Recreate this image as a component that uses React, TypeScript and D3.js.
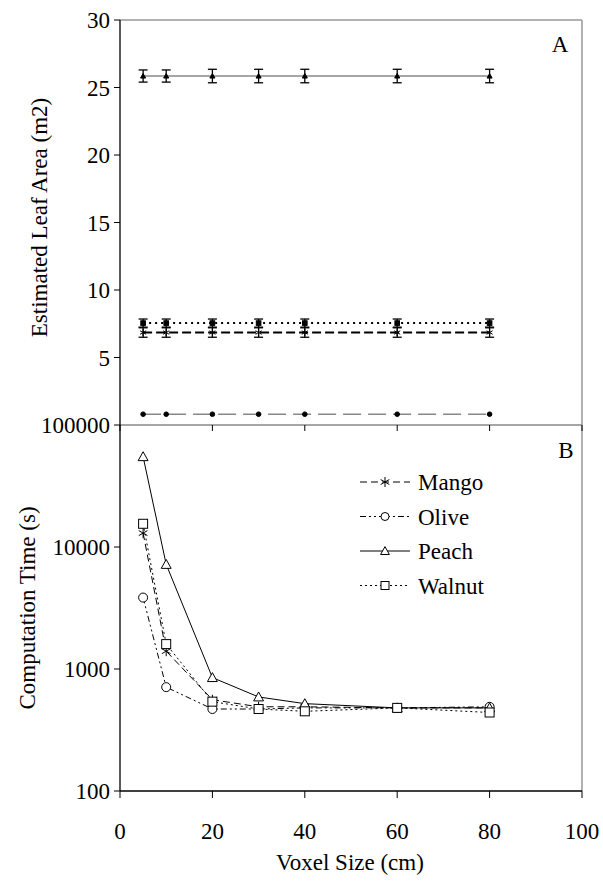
import React from "react";
import * as d3 from "d3";

const voxel = [5, 10, 20, 30, 40, 60, 80];
const seriesNames = ["Mango", "Olive", "Peach", "Walnut"];

const areaMango = [6.85, 6.85, 6.85, 6.85, 6.85, 6.85, 6.85];
const areaOlive = [0.8, 0.8, 0.8, 0.8, 0.8, 0.8, 0.8];
const areaPeach = [25.85, 25.85, 25.85, 25.85, 25.85, 25.85, 25.85];
const areaWalnut = [7.55, 7.55, 7.55, 7.55, 7.55, 7.55, 7.55];
const errMango = [0.35, 0.35, 0.35, 0.35, 0.35, 0.35, 0.35];
const errOlive = [0.05, 0.05, 0.05, 0.05, 0.05, 0.05, 0.05];
const errPeach = [0.45, 0.45, 0.5, 0.5, 0.5, 0.5, 0.5];
const errWalnut = [0.3, 0.3, 0.3, 0.3, 0.3, 0.3, 0.3];

const timeMango = [13000, 1400, 560, 490, 490, 480, 480];
const timeOlive = [3850, 710, 470, 470, 480, 480, 490];
const timePeach = [55000, 7200, 850, 590, 520, 480, 480];
const timeWalnut = [15500, 1600, 540, 470, 450, 480, 440];

const xTicks = [0, 20, 40, 60, 80, 100];
const yTicksA = [5, 10, 15, 20, 25, 30];
const yTicksB = [100, 1000, 10000, 100000];

const FONT = "'Liberation Serif', 'Times New Roman', Times, serif";
const FS = 23;

type Kind = "star" | "circle" | "triangle" | "square";

function Marker({ kind, cx, cy, s, filled }: { kind: Kind; cx: number; cy: number; s: number; filled?: boolean }) {
  const fill = filled ? "#000" : "#fff";
  if (kind === "circle") return <circle cx={cx} cy={cy} r={s} fill={fill} stroke="#000" strokeWidth={1} />;
  if (kind === "square") return <rect x={cx - s} y={cy - s} width={2 * s} height={2 * s} fill={fill} stroke="#000" strokeWidth={1} />;
  if (kind === "triangle") {
    const h = s * 1.1;
    return <path d={`M${cx},${cy - h}L${cx + s * 1.1},${cy + h * 0.8}L${cx - s * 1.1},${cy + h * 0.8}Z`} fill={fill} stroke="#000" strokeWidth={1} />;
  }
  const a = s * 0.87;
  return (
    <g stroke="#000" strokeWidth={1}>
      <line x1={cx} y1={cy - s} x2={cx} y2={cy + s} />
      <line x1={cx - a} y1={cy - s / 2} x2={cx + a} y2={cy + s / 2} />
      <line x1={cx - a} y1={cy + s / 2} x2={cx + a} y2={cy - s / 2} />
    </g>
  );
}

export default function App() {
  const W = 603, H = 883;
  const x = d3.scaleLinear().domain([0, 100]).range([120, 582]);
  const yA = d3.scaleLinear().domain([0, 30]).range([425, 20]);
  const yB = d3.scaleLog().domain([100, 100000]).range([791, 425]);

  const kinds: Kind[] = ["star", "circle", "triangle", "square"];
  const areas = [areaMango, areaOlive, areaPeach, areaWalnut];
  const errs = [errMango, errOlive, errPeach, errWalnut];
  const times = [timeMango, timeOlive, timePeach, timeWalnut];

  const topStyles = [
    { stroke: "#000", width: 2, dash: "9,4" },
    { stroke: "#888", width: 1.5, dash: "18,7" },
    { stroke: "#888", width: 1.5, dash: "" },
    { stroke: "#000", width: 2, dash: "2,4" },
  ];
  const botStyles = [
    { stroke: "#000", width: 1, dash: "7,4" },
    { stroke: "#000", width: 1, dash: "6,3,2,3,2,3" },
    { stroke: "#000", width: 1, dash: "" },
    { stroke: "#000", width: 1, dash: "2,3" },
  ];

  const lineA = (vals: number[]) =>
    d3.line<number>().x((_, i) => x(voxel[i])).y((v) => yA(v))(vals) || "";
  const lineB = (vals: number[]) =>
    d3.line<number>().x((_, i) => x(voxel[i])).y((v) => yB(v))(vals) || "";

  const x0 = x(0), x1 = x(100);

  return (
    <svg width={W} height={H} style={{ display: "block", position: "absolute", left: 0, top: 0, fontFamily: FONT }}>
      <rect width={W} height={H} fill="#fff" />
      {/* frames */}
      <line x1={x0} y1={yA(30)} x2={x1} y2={yA(30)} stroke="#999" strokeWidth={1.5} />
      <line x1={x1} y1={yA(30)} x2={x1} y2={yB(100)} stroke="#999" strokeWidth={1.5} />
      <line x1={x0} y1={425} x2={x1} y2={425} stroke="#888" strokeWidth={1.5} />

      {/* top panel x ticks (downward) */}
      {xTicks.map((t) => (
        <line key={"ta" + t} x1={x(t)} y1={425} x2={x(t)} y2={431} stroke="#000" />
      ))}
      {/* top y ticks */}
      {yTicksA.map((t) => (
        <g key={"ya" + t}>
          <line x1={x0 - 6} y1={yA(t)} x2={x0} y2={yA(t)} stroke="#000" />
          <text x={x0 - 10} y={yA(t)} dy="0.35em" textAnchor="end" fontSize={FS}>{t}</text>
        </g>
      ))}

      {/* top series */}
      {areas.map((vals, si) => (
        <g key={"sa" + si}>
          <path d={lineA(vals)} fill="none" stroke={topStyles[si].stroke} strokeWidth={topStyles[si].width} strokeDasharray={topStyles[si].dash} />
          {vals.map((v, i) => {
            const cx = x(voxel[i]);
            const e = errs[si][i];
            return (
              <g key={i}>
                {e > 0.1 && (
                  <g stroke="#000" strokeWidth={1.3}>
                    <line x1={cx} y1={yA(v + e)} x2={cx} y2={yA(v - e)} />
                    <line x1={cx - 4.5} y1={yA(v + e)} x2={cx + 4.5} y2={yA(v + e)} />
                    <line x1={cx - 4.5} y1={yA(v - e)} x2={cx + 4.5} y2={yA(v - e)} />
                  </g>
                )}
                <Marker kind={kinds[si]} cx={cx} cy={yA(v)} s={kinds[si] === "star" ? 3.5 : 2.3} filled={si !== 0} />
              </g>
            );
          })}
        </g>
      ))}
      <text x={560} y={44} dy="0.35em" textAnchor="middle" fontSize={FS}>A</text>

      {/* bottom panel axes */}
      <line x1={x0} y1={yB(100)} x2={x1} y2={yB(100)} stroke="#000" strokeWidth={1.3} />
      <line x1={x0} y1={yA(30)} x2={x0} y2={yB(100)} stroke="#000" strokeWidth={1.3} />
      {xTicks.map((t) => (
        <g key={"tb" + t}>
          <line x1={x(t)} y1={yB(100)} x2={x(t)} y2={yB(100) + 7} stroke="#000" />
          <text x={x(t)} y={yB(100) + 40} dy="0.35em" textAnchor="middle" fontSize={FS}>{t}</text>
        </g>
      ))}
      {yTicksB.map((t) => (
        <g key={"yb" + t}>
          <line x1={x0 - 6} y1={yB(t)} x2={x0} y2={yB(t)} stroke="#000" />
          <text x={x0 - 10} y={yB(t)} dy="0.35em" textAnchor="end" fontSize={FS}>{t}</text>
        </g>
      ))}

      {/* bottom series */}
      {times.map((vals, si) => (
        <g key={"sb" + si}>
          <path d={lineB(vals)} fill="none" stroke={botStyles[si].stroke} strokeWidth={botStyles[si].width} strokeDasharray={botStyles[si].dash} />
          {vals.map((v, i) => (
            <Marker key={i} kind={kinds[si]} cx={x(voxel[i])} cy={yB(v)} s={kinds[si] === "star" ? 5 : 4.5} />
          ))}
        </g>
      ))}
      <text x={566} y={450} dy="0.35em" textAnchor="middle" fontSize={FS}>B</text>

      {/* legend */}
      {seriesNames.map((n, i) => {
        const ly = 482 + i * 34.5;
        return (
          <g key={n}>
            <line x1={360} y1={ly} x2={410} y2={ly} stroke="#000" strokeWidth={1} strokeDasharray={botStyles[i].dash} />
            <Marker kind={kinds[i]} cx={385} cy={ly} s={i === 0 ? 5 : 4} />
            <text x={418} y={ly} dy="0.35em" fontSize={FS}>{n}</text>
          </g>
        );
      })}

      {/* axis titles */}
      <text transform={`translate(47,${yA(15) - 5}) rotate(-90)`} textAnchor="middle" fontSize={FS}>Estimated Leaf Area (m2)</text>
      <text transform={`translate(35,${(yB(100) + yB(100000)) / 2}) rotate(-90)`} textAnchor="middle" fontSize={FS}>Computation Time (s)</text>
      <text x={350} y={870} textAnchor="middle" fontSize={FS}>Voxel Size (cm)</text>
    </svg>
  );
}
